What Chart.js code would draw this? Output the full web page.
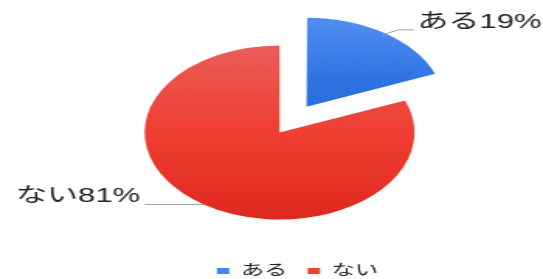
<!DOCTYPE html>
<html>
<head>
<meta charset="utf-8">
<script src="https://cdn.jsdelivr.net/npm/chart.js@4"></script>
<style>
    html, body { margin: 0; padding: 0; background: #fff; overflow: hidden; }
    /* the reference is stretched sideways, so draw narrow and stretch */
    #wrap { width: 350px; height: 279px; transform: scaleX(1.5514); transform-origin: 0 0; }
</style>
</head>
<body>
<div id="wrap"><canvas id="myChart" width="350" height="279"></canvas></div>
<script>
const labels = ['ある', 'ない'];
const values = [19, 81];
const sliceColors = ['#4285f4', '#ea4335'];
const gradTop = ['#5d98f5', '#ea5d58'];
const gradMid = ['#2f73e3', '#ef3e32'];
const gradBottom = ['#2160cc', '#df281e'];
const offsets = [124, 0];

const fontFamily = '"Liberation Sans", "Noto Sans CJK JP", sans-serif';
const pieRadius = 87;
const total = values.reduce((a, b) => a + b, 0);

function sliceGradient(ctx) {
    const i = ctx.dataIndex;
    const area = ctx.chart.chartArea;
    if (!area) return sliceColors[i];
    const before = values.slice(0, i).reduce((a, b) => a + b, 0);
    const mid = ((before + values[i] / 2) / total) * Math.PI * 2 - Math.PI / 2;
    const cy = (area.top + area.bottom) / 2 + Math.sin(mid) * offsets[i] / 4;
    const g = ctx.chart.ctx.createLinearGradient(0, cy - pieRadius, 0, cy + pieRadius);
    g.addColorStop(0, gradTop[i]);
    g.addColorStop(0.5, gradMid[i]);
    g.addColorStop(1, gradBottom[i]);
    return g;
}

// outside labels with leader lines
const sliceLabels = {
    id: 'sliceLabels',
    afterDatasetsDraw(chart) {
        const ctx = chart.ctx;
        const meta = chart.getDatasetMeta(0);
        ctx.save();
        ctx.font = '20px ' + fontFamily;
        ctx.fillStyle = '#222';
        ctx.strokeStyle = '#9e9e9e';
        ctx.lineWidth = 1;
        ctx.textBaseline = 'middle';
        meta.data.forEach((arc, i) => {
            const p = arc.getProps(['x', 'y', 'startAngle', 'endAngle', 'outerRadius']);
            const mid = (p.startAngle + p.endAngle) / 2;
            const shift = (offsets[i] || 0) / 4;
            const ax = p.x + Math.cos(mid) * (p.outerRadius + shift);
            const ay = p.y + Math.sin(mid) * (p.outerRadius + shift);
            const text = labels[i] + values[i] + '%';
            ctx.beginPath();
            if (Math.cos(mid) >= 0) {
                ctx.moveTo(ax, ay);
                ctx.lineTo(ax + 10, ay - 5);
                ctx.lineTo(ax + 20, ay - 5);
                ctx.stroke();
                ctx.textAlign = 'left';
                ctx.fillText(text, ax + 22.5, ay - 12.5);
            } else {
                ctx.moveTo(ax, ay);
                ctx.lineTo(ax - 38, ay);
                ctx.stroke();
                ctx.textAlign = 'right';
                ctx.fillText(text, ax - 41, ay - 7.5);
            }
        });
        ctx.restore();
    }
};

// nudge the legend to where the reference has it
const legendNudge = {
    id: 'legendNudge',
    afterLayout(chart) {
        const lg = chart.legend;
        if (!lg) return;
        lg.left += 11.6;
        lg.right += 11.6;
        lg.top += 9.5;
        lg.bottom += 9.5;
    }
};

const data = {
    labels: labels,
    datasets: [{
        data: values,
        backgroundColor: sliceGradient,
        borderWidth: 0,
        offset: offsets,
        radius: pieRadius
    }]
};

const config = {
    type: 'pie',
    data: data,
    options: {
        responsive: false,
        animation: false,
        layout: {
            padding: { left: 10.4, right: 0, top: 24, bottom: 0 }
        },
        plugins: {
            legend: {
                position: 'bottom',
                labels: {
                    boxWidth: 8,
                    boxHeight: 6,
                    padding: 13,
                    color: '#222',
                    font: { size: 15, family: fontFamily },
                    generateLabels: function (chart) {
                        const items = Chart.overrides.pie.plugins.legend.labels.generateLabels(chart);
                        items.forEach((it, i) => {
                            it.fillStyle = sliceColors[i];
                            it.strokeStyle = sliceColors[i];
                            it.lineWidth = 0;
                        });
                        return items;
                    }
                }
            },
            tooltip: { enabled: false }
        }
    },
    plugins: [sliceLabels, legendNudge]
};

const myChart = new Chart(document.getElementById('myChart'), config);
</script>
</body>
</html>
